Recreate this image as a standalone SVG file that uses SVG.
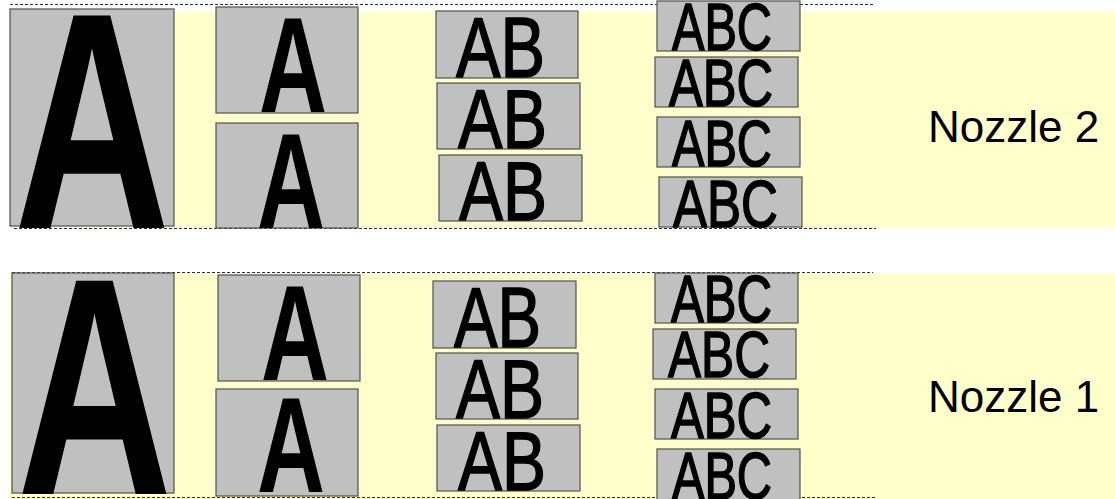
<svg xmlns="http://www.w3.org/2000/svg" width="1115" height="499" viewBox="0 0 1115 499">
<style>
.band{fill:#ffffcc}
.box{fill:#c0c0c0;stroke:#505050;stroke-width:1.2}
.g{font-family:"Liberation Sans",Arial,sans-serif;font-weight:bold;fill:#000}
.r{font-family:"Liberation Sans",Arial,sans-serif;fill:#000;stroke:#000;stroke-width:1.6;stroke-linejoin:round}
.dash{stroke:#303030;stroke-width:1;stroke-dasharray:3 2;fill:none}
.lbl{font-family:"Liberation Sans",Arial,sans-serif;font-size:44px;fill:#000}
</style>
<g id="bands">
<rect class="band" x="10" y="12" width="1105" height="216"/>
<rect class="band" x="10" y="273" width="1105" height="226"/>
</g>
<g id="guides">
<line class="dash" x1="10" y1="4.5" x2="873" y2="4.5"/>
<line class="dash" x1="14" y1="228.5" x2="876" y2="228.5"/>
<line class="dash" x1="12" y1="272.5" x2="873" y2="272.5"/>
<line class="dash" x1="12" y1="497.5" x2="876" y2="497.5"/>
</g>
<g id="nozzle2">
<g id="n2-big"><rect class="box" x="10" y="9" width="164" height="217"/><text class="g" x="14" y="228" font-size="309" textLength="156" lengthAdjust="spacingAndGlyphs">A</text></g>
<g id="n2-a1"><rect class="box" x="216" y="7" width="142" height="106"/><text class="g" x="259" y="112" font-size="136" textLength="68" lengthAdjust="spacingAndGlyphs">A</text></g>
<g id="n2-a2"><rect class="box" x="216" y="123" width="142" height="105"/><text class="g" x="257" y="228" font-size="136" textLength="68" lengthAdjust="spacingAndGlyphs">A</text></g>
<g id="n2-ab1"><rect class="box" x="436" y="11" width="142" height="67"/><text class="r" x="456" y="76.5" font-size="85" textLength="89" lengthAdjust="spacingAndGlyphs">AB</text></g>
<g id="n2-ab2"><rect class="box" x="437" y="83" width="143" height="66"/><text class="r" x="458" y="147.5" font-size="84" textLength="89" lengthAdjust="spacingAndGlyphs">AB</text></g>
<g id="n2-ab3"><rect class="box" x="439" y="155" width="143" height="66"/><text class="r" x="459" y="219.5" font-size="84" textLength="88" lengthAdjust="spacingAndGlyphs">AB</text></g>
<g id="n2-abc1"><rect class="box" x="657" y="1" width="143" height="50"/><text class="r" x="672" y="49.5" font-size="66" textLength="100" lengthAdjust="spacingAndGlyphs">ABC</text></g>
<g id="n2-abc2"><rect class="box" x="655" y="57" width="143" height="50"/><text class="r" x="669" y="105.5" font-size="66" textLength="104" lengthAdjust="spacingAndGlyphs">ABC</text></g>
<g id="n2-abc3"><rect class="box" x="657" y="117" width="143" height="50"/><text class="r" x="672" y="165.5" font-size="65" textLength="100" lengthAdjust="spacingAndGlyphs">ABC</text></g>
<g id="n2-abc4"><rect class="box" x="659" y="177" width="143" height="50"/><text class="r" x="673" y="226.5" font-size="66" textLength="105" lengthAdjust="spacingAndGlyphs">ABC</text></g>
<g id="n2-label"><text class="lbl" x="928" y="142">Nozzle 2</text></g>
</g>
<g id="nozzle1">
<g id="n1-big"><rect class="box" x="12" y="273" width="162" height="220"/><text class="g" x="17" y="494" font-size="310" textLength="155" lengthAdjust="spacingAndGlyphs">A</text></g>
<g id="n1-a1"><rect class="box" x="218" y="275" width="142" height="106"/><text class="g" x="261" y="380" font-size="136" textLength="68" lengthAdjust="spacingAndGlyphs">A</text></g>
<g id="n1-a2"><rect class="box" x="216" y="389" width="142" height="107"/><text class="g" x="257" y="492" font-size="136" textLength="68" lengthAdjust="spacingAndGlyphs">A</text></g>
<g id="n1-ab1"><rect class="box" x="433" y="281" width="143" height="67"/><text class="r" x="454" y="346.5" font-size="85" textLength="87" lengthAdjust="spacingAndGlyphs">AB</text></g>
<g id="n1-ab2"><rect class="box" x="436" y="353" width="142" height="66"/><text class="r" x="456" y="417.5" font-size="84" textLength="88" lengthAdjust="spacingAndGlyphs">AB</text></g>
<g id="n1-ab3"><rect class="box" x="437" y="425" width="143" height="66"/><text class="r" x="458" y="489.5" font-size="84" textLength="88" lengthAdjust="spacingAndGlyphs">AB</text></g>
<g id="n1-abc1"><rect class="box" x="655" y="273" width="143" height="50"/><text class="r" x="671" y="321.5" font-size="66" textLength="101" lengthAdjust="spacingAndGlyphs">ABC</text></g>
<g id="n1-abc2"><rect class="box" x="653" y="329" width="143" height="50"/><text class="r" x="668" y="376.5" font-size="65" textLength="102" lengthAdjust="spacingAndGlyphs">ABC</text></g>
<g id="n1-abc3"><rect class="box" x="655" y="389" width="143" height="50"/><text class="r" x="671" y="437.5" font-size="65" textLength="101" lengthAdjust="spacingAndGlyphs">ABC</text></g>
<g id="n1-abc4"><rect class="box" x="657" y="449" width="143" height="52"/><text class="r" x="672" y="499" font-size="66" textLength="100" lengthAdjust="spacingAndGlyphs">ABC</text></g>
<g id="n1-label"><text class="lbl" x="928" y="412">Nozzle 1</text></g>
</g>
</svg>
